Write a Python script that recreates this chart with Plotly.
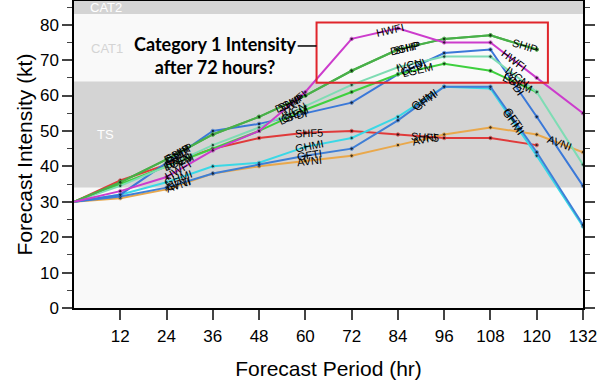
import math
import plotly.graph_objects as go

hours = [0, 12, 24, 36, 48, 60, 72, 84, 96, 108, 120, 132]
x_ticks = [12, 24, 36, 48, 60, 72, 84, 96, 108, 120, 132]
y_ticks = [0, 10, 20, 30, 40, 50, 60, 70, 80]

SHIP = [30, 35.5, 42, 49, 54, 60, 67, 73, 76, 77, 73, None]
DSHP = [30, 35.5, 42, 49, 54, 60, 67, 73, 76, 77, 73, None]
HWFI = [30, 33, 37, 44.5, 50, 61, 76, 79, 75, 75, 65, 55]
IVCN = [30, 34.5, 40, 46, 51, 57, 63, 68, 71, 71, 61, 40.5]
LGEM = [30, 35, 40, 45, 50, 56, 61, 66, 69, 67, 61, None]
GFDI = [30, 32, 41, 50, 52, 55, 58, 66, 72, 73, 54, 34.5]
GFTI = [30, 31.5, 34, 38, 40.5, 43, 45, 53, 62.5, 62.5, 44, 23.5]
GHMI = [30, 32, 35.5, 40, 41, 45.5, 48, 54, 62.5, 62, 43, 23]
SHF5 = [30, 36, 40.5, 45, 48, 49.5, 50, 49, 48, 48, 46, None]
AVNI = [30, 31, 33.5, 38, 40, 41.5, 43, 46, 49, 51, 49, 44]

# Saffir-Simpson bands (kt)
band_names = ["TS", "CAT1", "CAT2"]
band_low = [34, 64, 83]
band_high = [64, 83, 96]

models = [
    ("AVNI", AVNI, "#e9a84c", [27, 61, 91, 126]),
    ("SHF5", SHF5, "#e03a3a", [27, 61, 91]),
    ("GHMI", GHMI, "#3ad8e6", [27, 61, 91, 114]),
    ("GFTI", GFTI, "#3f7fd6", [27, 61, 91, 114]),
    ("GFDI", GFDI, "#3a78d8", [27, 57, 88, 114]),
    ("LGEM", LGEM, "#3fd03f", [27, 57, 89, 115]),
    ("IVCN", IVCN, "#7fdcb4", [27, 57, 87, 115]),
    ("DSHP", DSHP, "#49b049", [27, 56, 86]),
    ("SHIP", SHIP, "#49b049", [27, 56, 86, 117]),
    ("HWFI", HWFI, "#cc3ccc", [27, 57, 82, 114]),
]

X0, X1 = 0, 132
Y0, Y1 = 0, 86.7
ML, MR, MT, MB = 74, 17, 1, 73
W, H = 600, 381
pw = W - ML - MR
ph = H - MT - MB
sx = pw / (X1 - X0)
sy = ph / (Y1 - Y0)

fig = go.Figure()

for name, vals, col, _ in models:
    xs = [h for h, v in zip(hours, vals) if v is not None]
    ys = [v for v in vals if v is not None]
    fig.add_trace(go.Scatter(
        x=xs, y=ys, mode="lines+markers", name=name,
        line=dict(color=col, width=2),
        marker=dict(color="black", size=[0] + [3.5] * (len(xs) - 1)),
        showlegend=False, hoverinfo="skip"))


def interp(vals, h):
    pts = [(hh, v) for hh, v in zip(hours, vals) if v is not None]
    for (ha, va), (hb, vb) in zip(pts[:-1], pts[1:]):
        if ha <= h <= hb:
            t = (h - ha) / (hb - ha)
            return va + t * (vb - va), (vb - va) / (hb - ha)
    return None, None


annotations = []
for name, vals, col, label_hours in models:
    for h in label_hours:
        v, slope = interp(vals, h)
        if v is None:
            continue
        ang = -math.degrees(math.atan(slope * sy / sx))
        annotations.append(dict(
            x=h, y=v, xref="x", yref="y", text=name, showarrow=False,
            textangle=ang, font=dict(family="Liberation Sans, Arial", size=11, color="black")))

# category band labels
annotations += [
    dict(x=3.5, y=84.9, xref="x", yref="y", text="CAT2", showarrow=False, xanchor="left",
         font=dict(family="Liberation Sans, Arial", size=13, color="white")),
    dict(x=4, y=73.3, xref="x", yref="y", text="CAT1", showarrow=False, xanchor="left",
         font=dict(family="Liberation Sans, Arial", size=13, color="#d4d4d4")),
    dict(x=5.5, y=49, xref="x", yref="y", text="TS", showarrow=False, xanchor="left",
         font=dict(family="Liberation Sans, Arial", size=13, color="white")),
    dict(x=36.6, y=71.3, xref="x", yref="y", text="<b>Category 1 Intensity<br>after 72 hours?</b>",
         showarrow=False, align="center",
         font=dict(family="Lato, Open Sans", size=18, color="black")),
]

shapes = []
for lo, hi in zip(band_low, band_high):
    if lo in (34, 83):
        shapes.append(dict(type="rect", xref="x domain", yref="y", x0=0, x1=1, y0=lo, y1=hi,
                           fillcolor="#d4d4d4", line=dict(width=0), layer="below"))
shapes.append(dict(type="rect", xref="x", yref="y", x0=62.9, x1=122.9, y0=63.6, y1=80.6,
                   line=dict(color="#e0262c", width=2), fillcolor="rgba(0,0,0,0)"))
shapes.append(dict(type="line", xref="x", yref="y", x0=58.0, x1=62.9, y0=74.0, y1=74.0,
                   line=dict(color="black", width=1.5)))

fig.update_layout(
    width=W, height=H,
    margin=dict(l=ML, r=MR, t=MT, b=MB, pad=0, autoexpand=False),
    paper_bgcolor="white", plot_bgcolor="#f9f9f9",
    shapes=shapes, annotations=annotations,
    font=dict(family="Liberation Sans, Arial", color="black"),
    xaxis=dict(range=[X0, X1], tickvals=x_ticks, ticks="outside", ticklen=10, tickwidth=1.5,
               showline=True, linecolor="black", linewidth=1.5, mirror=True, showgrid=False,
               zeroline=False, tickfont=dict(size=17), ticklabelstandoff=2, automargin=False,
               title=dict(text="Forecast Period (hr)", font=dict(size=21), standoff=16)),
    yaxis=dict(range=[Y0, Y1], tickvals=y_ticks, ticks="outside", ticklen=10, tickwidth=1.5,
               showline=True, linecolor="black", linewidth=1.5, mirror="allticks", showgrid=False,
               zeroline=False, tickfont=dict(size=17), automargin=False,
               minor=dict(dtick=5, ticks="outside", ticklen=5, tickwidth=1.2, showgrid=False),
               title=dict(text="Forecast Intensity (kt)", font=dict(size=21), standoff=2)),
)

fig.write_html("out.html", config={"displayModeBar": False},
               post_script="document.body.style.margin='0';")
